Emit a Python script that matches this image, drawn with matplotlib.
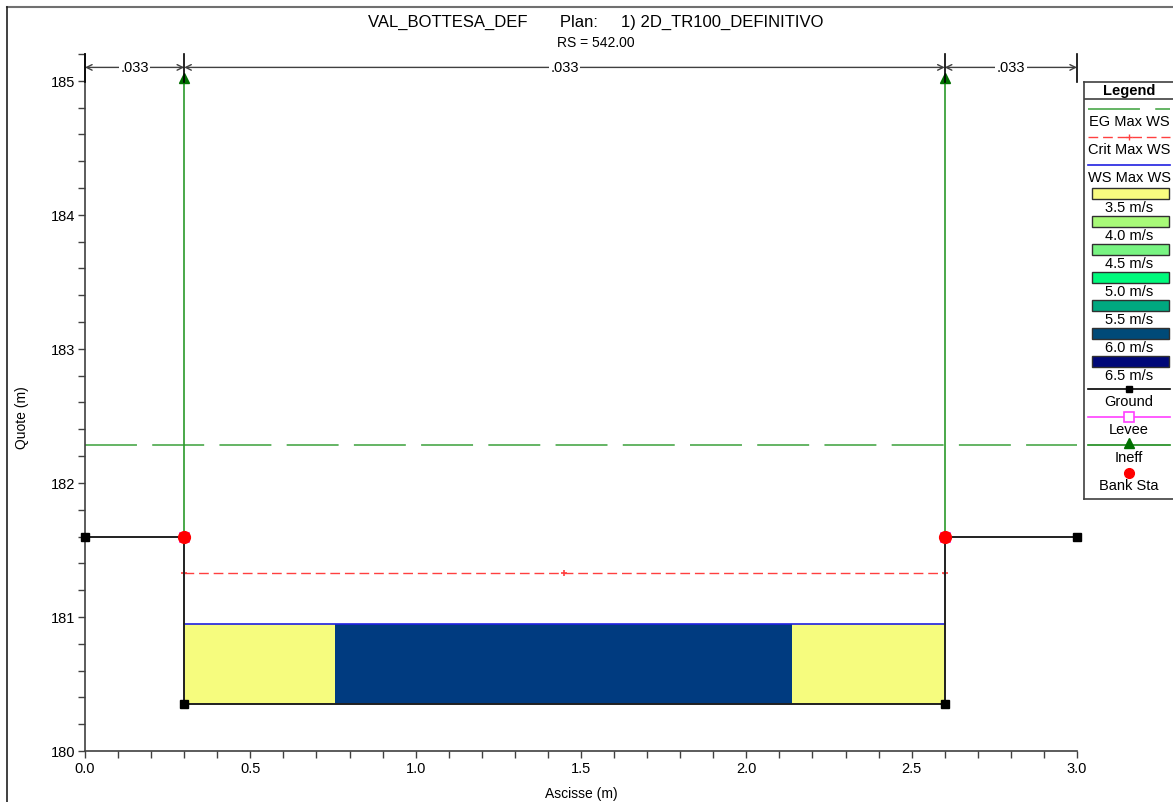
import matplotlib.pyplot as plt
from matplotlib.lines import Line2D
from matplotlib.patches import Rectangle
from matplotlib.ticker import MultipleLocator

plt.rcParams['font.family'] = ['Liberation Sans', 'DejaVu Sans']

# dati della sezione
ground_x = [0.0, 0.3, 0.3, 2.6, 2.6, 3.0]
ground_y = [181.6, 181.6, 180.35, 180.35, 181.6, 181.6]
bank_x = [0.3, 2.6]
bank_y = [181.6, 181.6]
ineff_x = [0.3, 2.6]
ineff_bottom = 181.6
ineff_top = 185.02
eg_ws = 182.28
crit_ws = 181.33
crit_x = [0.3, 1.45, 2.6]
ws_max = 180.95
ws_x = [0.3, 2.6]
vel_edges = [0.3, 0.756, 2.138, 2.6]
vel_colors = ['#f6fc7e', '#003b80', '#f6fc7e']
n_edges = [0.0, 0.3, 2.6, 3.0]
n_values = ['.033', '.033', '.033']
n_level = 185.10

legend_labels = ['3.5 m/s', '4.0 m/s', '4.5 m/s', '5.0 m/s', '5.5 m/s', '6.0 m/s', '6.5 m/s']
legend_colors = ['#f8fb80', '#a8fa78', '#78f482', '#00fa7c', '#00a880', '#004a78', '#000878']

W, H = 1173, 803
fig = plt.figure(figsize=(W / 100, H / 100), dpi=100)

def px_rect(x0, y0, x1, y1):
    return [x0 / W, 1 - y1 / H, (x1 - x0) / W, (y1 - y0) / H]

ax = fig.add_axes(px_rect(85, 55, 1077, 752))
ax.set_xlim(0, 3.0)
ax.set_ylim(180, 185.2)

# velocita'
for i in range(len(vel_colors)):
    ax.add_patch(Rectangle((vel_edges[i], ground_y[2]), vel_edges[i + 1] - vel_edges[i],
                           ws_max - ground_y[2], facecolor=vel_colors[i], edgecolor='none', zorder=1))

ax.plot(ws_x, [ws_max, ws_max], color='#2020e0', lw=1.2, zorder=2)

eg, = ax.plot([0, 3.0], [eg_ws, eg_ws], color='#3aa03a', lw=1.1, zorder=2)
eg.set_dashes((34, 10))

cr, = ax.plot(crit_x, [crit_ws] * 3, color='#ff4040', lw=1.0, marker='+', ms=5, mew=1.2, zorder=2)
cr.set_dashes((7, 3.5))

for xi in ineff_x:
    ax.plot([xi, xi], [ineff_bottom, ineff_top], color='#2a9a2a', lw=1.2, zorder=3)
    ax.plot([xi], [ineff_top], marker='^', color='#007000', ms=7, zorder=4)

ax.plot(ground_x, ground_y, color='#202020', lw=1.4, marker='s', ms=6, mfc='black', mec='black',
        zorder=5, clip_on=False)
ax.plot(bank_x, bank_y, 's', color='red', ms=7.5, mec='#ff40ff', mew=0.6, zorder=6)
ax.plot(bank_x, bank_y, 'o', color='red', ms=8.5, mec='red', zorder=6)

# coefficienti di Manning
for xe in n_edges:
    ax.plot([xe, xe], [184.99, 185.2], color='black', lw=1.2, clip_on=False, zorder=6)
for i in range(len(n_values)):
    x0, x1 = n_edges[i], n_edges[i + 1]
    ax.annotate('', xy=(x0, n_level), xytext=(x1, n_level),
                arrowprops=dict(arrowstyle='<->', color='#404040', lw=1.0, shrinkA=0, shrinkB=0))
    ax.text((x0 + x1) / 2, n_level, n_values[i], ha='center', va='center', fontsize=10.5,
            bbox=dict(facecolor='white', edgecolor='none', pad=1), zorder=7)

ax.spines['top'].set_visible(False)
ax.spines['right'].set_visible(False)
for s in ['left', 'bottom']:
    ax.spines[s].set_color('#404040')
    ax.spines[s].set_linewidth(1.2)
ax.spines['left'].set_bounds(180, 185.2)

ax.xaxis.set_major_locator(MultipleLocator(0.5))
ax.xaxis.set_minor_locator(MultipleLocator(0.1))
ax.yaxis.set_minor_locator(MultipleLocator(0.2))
ax.set_yticks([180, 181, 182, 183, 184, 185])
ax.xaxis.set_major_formatter(plt.FuncFormatter(lambda v, p: f'{v:.1f}'))
ax.tick_params(which='both', direction='out', length=5, width=1, color='#404040', labelsize=10.5, pad=2)
ax.set_xlabel('Ascisse (m)', fontsize=10, labelpad=8)
ax.set_ylabel('Quote (m)', fontsize=10)
ax.yaxis.set_label_coords(-0.056, 0.48)

fig.text(596 / W, 1 - 22 / H, 'VAL_BOTTESA_DEF       Plan:     1) 2D_TR100_DEFINITIVO',
         ha='center', va='center', fontsize=12)
fig.text(596 / W, 1 - 43 / H, 'RS = 542.00', ha='center', va='center', fontsize=10)

# bordo della finestra
fig.add_artist(Line2D([7 / W, 1], [1 - 8 / H, 1 - 8 / H], color='#707070', lw=1.5))
fig.add_artist(Line2D([7 / W, 7 / W], [0, 1 - 8 / H], color='#202020', lw=1.2))

# legenda
lg = fig.add_axes(px_rect(1084, 83, 1190, 500))
lg.set_xlim(1084, 1190)
lg.set_ylim(500, 83)
lg.set_xticks([])
lg.set_yticks([])
for s in lg.spines.values():
    s.set_color('#404040')
    s.set_linewidth(1.2)
cx = 1129
fs = 10.5
lg.text(cx, 91, 'Legend', ha='center', va='center', fontsize=fs, fontweight='bold')
lg.plot([1084, 1190], [100, 100], color='#404040', lw=1.2)

l1, = lg.plot([1088, 1170], [110, 110], color='#3aa03a', lw=1.1)
l1.set_dashes((34, 10))
lg.text(cx, 122, 'EG Max WS', ha='center', va='center', fontsize=fs)
l2, = lg.plot([1088, 1129, 1170], [138, 138, 138], color='#ff4040', lw=1.0, marker='+', ms=5, markevery=[1])
l2.set_dashes((7, 3.5))
lg.text(cx, 150, 'Crit Max WS', ha='center', va='center', fontsize=fs)
lg.plot([1088, 1170], [166, 166], color='#2020e0', lw=1.2)
lg.text(cx, 178, 'WS Max WS', ha='center', va='center', fontsize=fs)

for i in range(len(legend_labels)):
    y = 194 + 28 * i
    lg.add_patch(Rectangle((1092, y - 5.5), 77, 11, facecolor=legend_colors[i], edgecolor='#303030', lw=1))
    lg.text(cx, y + 14, legend_labels[i], ha='center', va='center', fontsize=fs)

lg.plot([1088, 1170], [390, 390], color='black', lw=1.2)
lg.plot([cx], [390], 's', color='black', ms=5)
lg.text(cx, 402, 'Ground', ha='center', va='center', fontsize=fs)
lg.plot([1088, 1170], [418, 418], color='#ff40ff', lw=1.2)
lg.plot([cx], [418], 's', mfc='white', mec='#ff40ff', ms=7, mew=1.2)
lg.text(cx, 430, 'Levee', ha='center', va='center', fontsize=fs)
lg.plot([1088, 1170], [446, 446], color='#1a8a1a', lw=1.2)
lg.plot([cx], [444], '^', color='#007000', ms=7)
lg.text(cx, 458, 'Ineff', ha='center', va='center', fontsize=fs)
lg.plot([cx], [474], 'o', color='red', ms=7)
lg.text(cx, 486, 'Bank Sta', ha='center', va='center', fontsize=fs)

fig.savefig('out.png', dpi=100)
